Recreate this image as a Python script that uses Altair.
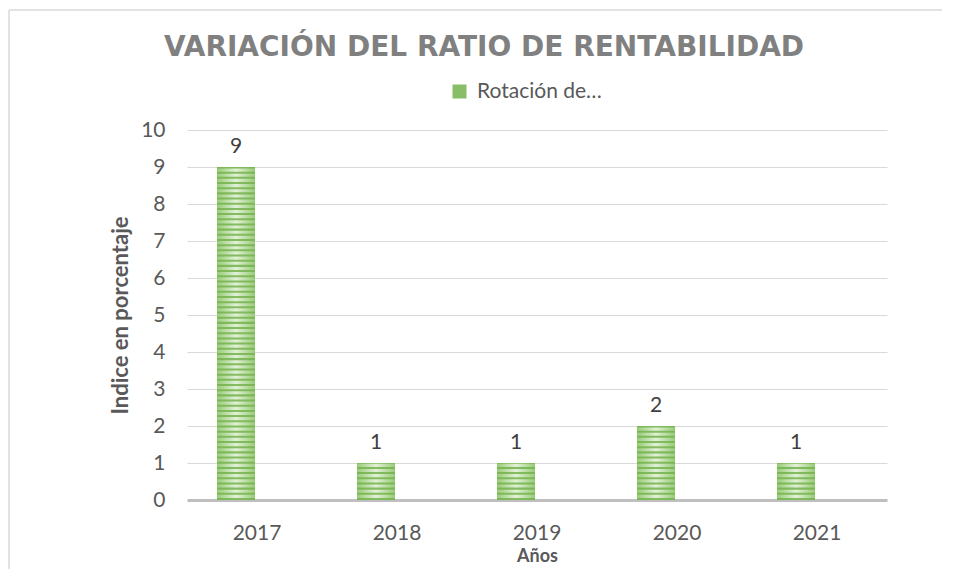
import altair as alt
import pandas as pd

years = ["2017", "2018", "2019", "2020", "2021"]
values = [9, 1, 1, 2, 1]
series_name = "Rotación de…"
title_text = "VARIACIÓN DEL RATIO DE RENTABILIDAD"

df = pd.DataFrame({"year": years, "v": values})

FONT = "Lato"
W, H = 700, 370

x_axis = alt.Axis(title="Años", labelAngle=0, labelFontSize=21, labelFont=FONT,
                  labelColor="#595959", labelPadding=22, ticks=False,
                  domainColor="#bfbfbf", domainWidth=3,
                  titleFont=FONT, titleFontSize=18, titleFontWeight="bold",
                  titleColor="#595959", titlePadding=4)
y_axis = alt.Axis(title="Indice en porcentaje", values=list(range(0, 11)),
                  labelOverlap=False,
                  labelFontSize=21, labelFont=FONT, labelColor="#595959",
                  labelPadding=22, ticks=False, domain=False,
                  gridColor="#d9d9d9", gridWidth=1,
                  titleFont=FONT, titleFontSize=22, titleFontWeight="bold",
                  titleColor="#595959", titlePadding=8)
x_scale = alt.Scale(paddingInner=0, paddingOuter=0)
y_scale = alt.Scale(domain=[0, 10], nice=False)

base_grad = alt.Gradient(gradient="linear", x1=0, x2=1, y1=0, y2=0,
                         stops=[alt.GradientStop(offset=0, color="#98cb78"),
                                alt.GradientStop(offset=0.5, color="#e2f1d7"),
                                alt.GradientStop(offset=1, color="#98cb78")])

bars = alt.Chart(df).mark_bar(width=38, xOffset=-21, fill=base_grad).encode(
    x=alt.X("year:N", sort=years, scale=x_scale, axis=x_axis),
    y=alt.Y("v:Q", scale=y_scale, axis=y_axis),
)

stripes = alt.Chart(df).transform_calculate(
    s="sequence(0, datum.v, 0.14)"
).transform_flatten(["s"]).transform_calculate(
    s2="min(datum.s + 0.055, datum.v)",
    serie="'" + series_name + "'"
).mark_bar(width=38, xOffset=-21, opacity=0.85).encode(
    x=alt.X("year:N", sort=years, scale=x_scale, axis=x_axis),
    y=alt.Y("s:Q", scale=y_scale, axis=y_axis),
    y2="s2:Q",
    color=alt.Color("serie:N", scale=alt.Scale(range=["#74b34d"]),
                    legend=alt.Legend(orient="none", legendX=262, legendY=-49, title=None,
                                      symbolType="square", symbolSize=196,
                                      symbolStrokeWidth=0, labelFontSize=21,
                                      labelFont=FONT, labelColor="#595959",
                                      labelOffset=7)),
)

labels = alt.Chart(df).mark_text(dx=-21, dy=-10, baseline="bottom", fontSize=21,
                                 font=FONT, color="#404040").encode(
    x=alt.X("year:N", sort=years, scale=x_scale, axis=x_axis),
    y=alt.Y("v:Q", scale=y_scale, axis=y_axis),
    text="v:Q",
)

border_df = pd.DataFrame({"k": [0]})
top_border = alt.Chart(border_df).mark_rule(color="#d9d9d9", strokeWidth=1.5).encode(
    x=alt.value(-178), x2=alt.value(760), y=alt.value(-120))
left_border = alt.Chart(border_df).mark_rule(color="#d9d9d9", strokeWidth=1.5).encode(
    x=alt.value(-178), y=alt.value(-120), y2=alt.value(H + 70))

title_df = pd.DataFrame({"t": [title_text]})
title = alt.Chart(title_df).mark_text(
    font="DejaVu Sans", fontSize=28, fontWeight="bold", color="#808080",
    align="center", baseline="alphabetic").encode(
    text="t:N", x=alt.value(297), y=alt.value(-74))

chart = alt.layer(bars, stripes, labels, top_border, left_border, title).properties(
    width=W, height=H,
    autosize=alt.AutoSizeParams(type="none"),
    padding={"left": 179, "top": 122, "right": 55, "bottom": 69},
).configure(background="white", view=alt.ViewConfig(stroke=None))

chart.save("out.html", embed_options={"renderer": "svg", "actions": False})
